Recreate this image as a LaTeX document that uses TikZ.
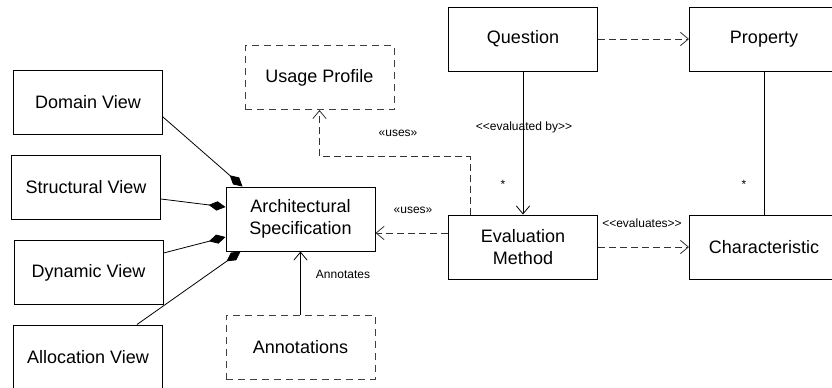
\documentclass[tikz,border=0pt]{standalone}
\usepackage{fontspec}
\setmainfont{Liberation Sans}
\usetikzlibrary{arrows.meta,calc}

\tikzset{
    view/.style={draw, line width=0.75pt, minimum width=111.75pt, minimum height=48pt,
        inner sep=0pt, align=center, font=\fontsize{13.5}{16.5}\selectfont},
    extview/.style={view, draw=black!75, dash pattern=on 5.25pt off 3.75pt},
    composed/.style={line width=0.6pt, -{Diamond[length=12.75pt,width=7pt]}},
    uses/.style={line width=0.6pt, draw=black!80, dash pattern=on 5.25pt off 3pt,
        -{Straight Barb[length=6pt,width=10pt]}},
    navigable/.style={line width=0.6pt, -{Straight Barb[length=6pt,width=10pt]}},
    stereo/.style={font=\fontsize{9}{11}\selectfont, inner sep=1pt},
}

\begin{document}
\begin{tikzpicture}[x=0.75pt, y=-0.75pt]
    \clip (0,0) rectangle (832,387);
    % views of the specification
    \node[view] (dom) at (88,102) {Domain View};
    \node[view] (struc) at (86,187.5) {Structural View};
    \node[view] (dyn) at (88.5,272.5) {Dynamic View};
    \node[view] (alloc) at (88,357) {Allocation View};
    \node[view] (arch) at (300.5,219) {Architectural\\Specification};
    \node[extview] (usage) at (319.5,77.5) {Usage Profile};
    \node[extview] (annot) at (300.5,347) {Annotations};
    % evaluation side
    \node[view] (quest) at (523,39) {Question};
    \node[view] (prop) at (764,39) {Property};
    \node[view] (evalm) at (523,247) {Evaluation\\Method};
    \node[view] (charac) at (764,247) {Characteristic};

    \draw[composed] ($(dom.east)+(0,15)$) -- ($(arch.north west)+(17,0)$);
    \draw[composed] ($(struc.east)+(0,11.5)$) -- ($(arch.west)+(0,-12)$);
    \draw[composed] ($(dyn.east)+(0,-19.5)$) -- ($(arch.west)+(0,18)$);
    \draw[composed] ($(alloc.north)+(49,0)$) -- ($(arch.south west)+(15,0)$);

    \draw[uses] ($(evalm.north)+(-53,0)$) -- ++(0,-58) -| (usage.south);
    \draw[uses] ($(evalm.west)+(0,-14)$) -- ($(arch.east)+(0,14)$);
    \draw[navigable] (annot.north) -- (arch.south);
    \draw[navigable] (quest.south) -- (evalm.north);
    \draw[uses] (quest.east) -- (prop.west);
    \draw[line width=0.6pt] (prop.south) -- (charac.north);
    \draw[uses] (evalm.east) -- (charac.west);

    % labels
    \node[stereo] (usesup) at (398,133) {«uses»};
    \node[stereo] (usesarch) at (413,210) {«uses»};
    \node[stereo] (annlbl) at (343,274) {Annotates};
    \node[stereo] (evby) at (524,127) {<\kern0pt<evaluated by>\kern0pt>};
    \node[stereo] (multev) at (503,184) {*};
    \node[stereo] (multch) at (744,184) {*};
    \node[stereo] (evs) at (642,223) {<\kern0pt<evaluates>\kern0pt>};
\end{tikzpicture}
\end{document}
